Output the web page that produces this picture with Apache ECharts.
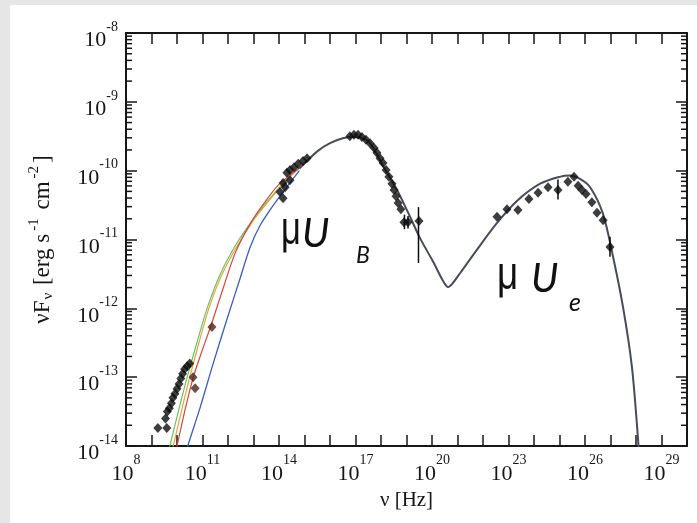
<!DOCTYPE html>
<html><head><meta charset="utf-8">
<script src="https://cdn.jsdelivr.net/npm/echarts@6/dist/echarts.min.js"></script>
<style>html,body{margin:0;padding:0;background:#fff}#c{width:697px;height:523px}</style>
</head><body><div id="c"></div>
<script>
// all values are log10(nu [Hz]) and log10(nuF_nu [erg s^-1 cm^-2])
const xLabelExps = [8, 11, 14, 17, 20, 23, 26, 29];
const yLabelExps = [-14, -13, -12, -11, -10, -9, -8];

const greenModel = [[9.65,-14.1],[9.72,-14.0],[10.05,-13.5],[10.4,-13.0],[10.78,-12.5],[11.18,-12.0],[11.7,-11.5],[12.35,-11.05],[13.0,-10.7],[13.6,-10.42],[14.2,-10.17],[14.8,-9.96]];
const orangeModel = [[9.78,-14.1],[9.85,-14.0],[10.17,-13.5],[10.5,-13.0],[10.86,-12.5],[11.25,-12.0],[11.75,-11.52],[12.38,-11.08],[13.0,-10.72],[13.6,-10.44],[14.2,-10.18],[14.8,-9.96]];
const redModel = [[9.93,-14.1],[10.0,-14.0],[10.3,-13.5],[10.64,-13.0],[11.0,-12.6],[11.36,-12.22],[11.8,-11.72],[12.3,-11.18],[12.86,-10.78],[13.4,-10.48],[14.0,-10.2],[14.8,-9.96]];
const blueModel = [[10.35,-14.1],[10.42,-14.0],[10.9,-13.45],[11.42,-12.8],[11.95,-12.17],[12.47,-11.57],[12.86,-11.12],[13.25,-10.8],[13.78,-10.5],[14.3,-10.24],[14.8,-10.0]];
const commonModel = [[14.8,-9.97],[15.5,-9.72],[16.0,-9.6],[16.5,-9.53],[16.9,-9.51],[17.2,-9.52],[17.57,-9.6],[18.08,-9.93],[18.63,-10.28],[19.14,-10.67],[19.53,-10.98],[20.04,-11.32],[20.43,-11.6],[20.63,-11.69],[20.8,-11.64],[21.1,-11.49],[21.76,-11.15],[22.55,-10.76],[23.33,-10.44],[24.24,-10.19],[25.0,-10.09],[25.4,-10.07],[25.8,-10.12],[26.2,-10.24],[26.7,-10.62],[27.1,-11.25],[27.5,-12.0],[27.84,-12.85],[28.08,-13.9],[28.14,-14.3]];

const radioPts = [[9.25,-13.74],[9.6,-13.74],[9.55,-13.6],[9.62,-13.5],[9.7,-13.45],[9.78,-13.38],[9.84,-13.3],[9.92,-13.24],[10.0,-13.17],[10.08,-13.1],[10.15,-13.02],[10.22,-12.95],[10.3,-12.88],[10.4,-12.84],[10.5,-12.8]];
const brownPts = [[10.63,-13.0],[10.71,-13.16],[11.37,-12.27]];
const irPts = [[14.04,-10.31],[14.16,-10.4],[14.16,-10.18],[14.31,-10.03],[14.43,-9.99],[14.59,-9.95],[14.75,-9.9],[14.94,-9.86],[15.1,-9.82],[14.43,-10.14],[14.24,-10.24]];
const xrayPts = [[16.78,-9.5],[16.94,-9.48],[17.1,-9.48],[17.25,-9.51],[17.41,-9.55],[17.57,-9.6],[17.73,-9.67],[17.84,-9.74],[17.96,-9.82],[18.08,-9.89],[18.2,-9.99],[18.31,-10.09],[18.43,-10.19],[18.51,-10.28],[18.59,-10.37],[18.67,-10.47],[18.78,-10.56],[18.9,-10.75],[19.06,-10.75],[19.49,-10.73]];
const gammaPts = [[22.55,-10.67],[22.94,-10.56],[23.37,-10.57],[23.8,-10.41],[24.16,-10.32],[24.55,-10.24],[24.94,-10.28],[25.33,-10.16],[25.57,-10.09],[25.73,-10.22],[25.88,-10.28],[26.04,-10.34],[26.27,-10.46],[26.47,-10.61],[26.71,-10.72],[26.98,-11.11]];
const errorBars = [[19.47,-11.34,-10.53],[24.94,-10.42,-10.13],[26.98,-11.25,-10.96],[18.92,-10.85,-10.64],[19.06,-10.84,-10.66]];

const minorTicks = [];
for (let d = -14; d < -8; d++) for (let k = 2; k <= 9; k++) minorTicks.push([8, d + Math.log10(k)]);

const serif = 'Liberation Serif';
const ink = '#161616';
const rich = {
  b: {fontFamily: serif, fontSize: 22, color: ink, padding: [15, 0, 0, 0]},
  s: {fontFamily: serif, fontSize: 14, color: ink, padding: [0, 0, 12, 0]}
};
const fmt = v => '{b|10}{s|' + v + '}';
const anno = (text, x, y, font, sx) => ({type: 'text', x: x, y: y, scaleX: sx || 1, z: 10, silent: true,
  style: {text: text, font: font, fill: '#111', verticalAlign: 'top', align: 'left'}});

const chart = echarts.init(document.getElementById('c'));
const pointStyle = {type: 'scatter', symbol: 'diamond', symbolSize: [9, 10], itemStyle: {color: '#0d0d0d'}, z: 5};
const lineBase = {type: 'line', symbol: 'none', smooth: 0.3};
chart.setOption({
  backgroundColor: '#e6e6e6',
  animation: false,
  graphic: [
    {type: 'rect', shape: {x: 10, y: 5, width: 687, height: 518}, style: {fill: '#ffffff'}, z: -100, silent: true},
    anno('μ', 281, 208, '46px "Liberation Sans"', 0.75),
    anno('U', 302, 214, 'italic 40px Lato'),
    anno('B', 356, 244, 'italic 23px Lato'),
    anno('μ', 497, 253, '46px "Liberation Sans"', 0.8),
    anno('U', 531, 259, 'italic 40px Lato'),
    anno('e', 569, 290, 'italic 25px Lato')
  ],
  grid: {left: 126, top: 33, right: 10, bottom: 77, containLabel: false, outerBoundsMode: 'none'},
  xAxis: [
    {type: 'value', min: 8, max: 30, interval: 1, position: 'bottom',
     axisLine: {onZero: false, lineStyle: {color: ink, width: 2}},
     axisTick: {inside: true, length: 11, lineStyle: {color: ink, width: 1.5}},
     splitLine: {show: false},
     axisLabel: {margin: 2, formatter: v => xLabelExps.includes(v) ? fmt(v) : '', rich: rich},
     name: 'ν [Hz]', nameLocation: 'middle', nameGap: 42,
     nameTextStyle: {fontFamily: serif, fontSize: 21, color: ink}},
    {type: 'value', min: 8, max: 30, interval: 1, position: 'top',
     axisLine: {onZero: false, lineStyle: {color: ink, width: 2}},
     axisTick: {inside: true, length: 11, lineStyle: {color: ink, width: 1.5}},
     splitLine: {show: false}, axisLabel: {show: false}}
  ],
  yAxis: [
    {type: 'value', min: -14, max: -8, interval: 1, position: 'left',
     axisLine: {onZero: false, lineStyle: {color: ink, width: 2}},
     axisTick: {inside: true, length: 11, lineStyle: {color: ink, width: 1.5}},
     splitLine: {show: false},
     axisLabel: {margin: 8, formatter: v => yLabelExps.includes(v) ? fmt(v) : '', rich: rich},
     name: '{n|νF}{sub|ν}{n| [erg s}{sup|-1}{n| cm}{sup|-2}{n|]}', nameLocation: 'middle', nameGap: 70, nameRotate: 90,
     nameTextStyle: {rich: {
       n: {fontFamily: serif, fontSize: 23, color: ink, padding: [9, 0, 0, 0]},
       sub: {fontFamily: serif, fontSize: 15, color: ink, padding: [20, 2, 0, 1]},
       sup: {fontFamily: serif, fontSize: 15, color: ink, padding: [0, 3, 9, 3]}
     }}},
    {type: 'value', min: -14, max: -8, interval: 1, position: 'right',
     axisLine: {onZero: false, lineStyle: {color: ink, width: 2}},
     axisTick: {inside: true, length: 11, lineStyle: {color: ink, width: 1.5}},
     splitLine: {show: false}, axisLabel: {show: false}}
  ],
  series: [
    {type: 'custom', data: minorTicks, encode: {x: 0, y: 1}, z: 6, silent: true,
     renderItem: (params, api) => {
       const pl = api.coord([8, api.value(1)]);
       const pr = api.coord([30, api.value(1)]);
       return {type: 'group', children: [
         {type: 'line', shape: {x1: pl[0], y1: pl[1], x2: pl[0] + 6, y2: pl[1]}, style: {stroke: ink, lineWidth: 1.5}},
         {type: 'line', shape: {x1: pr[0] - 6, y1: pr[1], x2: pr[0], y2: pr[1]}, style: {stroke: ink, lineWidth: 1.5}}
       ]};
     }},
    Object.assign({data: greenModel, lineStyle: {color: '#6cc06c', width: 1.2}, z: 3}, lineBase),
    Object.assign({data: orangeModel, lineStyle: {color: '#e0a838', width: 1.2}, z: 3}, lineBase),
    Object.assign({data: redModel, lineStyle: {color: '#d4463c', width: 1.2}, z: 3}, lineBase),
    Object.assign({data: blueModel, lineStyle: {color: '#3a5cc0', width: 1.3}, z: 3}, lineBase),
    Object.assign({data: commonModel, lineStyle: {color: '#444d58', width: 2}, z: 4}, lineBase),
    Object.assign({data: radioPts}, pointStyle),
    Object.assign({data: brownPts}, pointStyle, {itemStyle: {color: '#4a2418'}}),
    Object.assign({data: irPts}, pointStyle),
    Object.assign({data: xrayPts}, pointStyle),
    Object.assign({data: gammaPts}, pointStyle),
    {type: 'custom', data: errorBars, encode: {x: 0, y: [1, 2]}, z: 6, silent: true,
     renderItem: (params, api) => {
       const lo = api.coord([api.value(0), api.value(1)]);
       const hi = api.coord([api.value(0), api.value(2)]);
       return {type: 'line', shape: {x1: lo[0], y1: lo[1], x2: hi[0], y2: hi[1]}, style: {stroke: '#0d0d0d', lineWidth: 1.5}};
     }}
  ]
});
</script></body></html>
